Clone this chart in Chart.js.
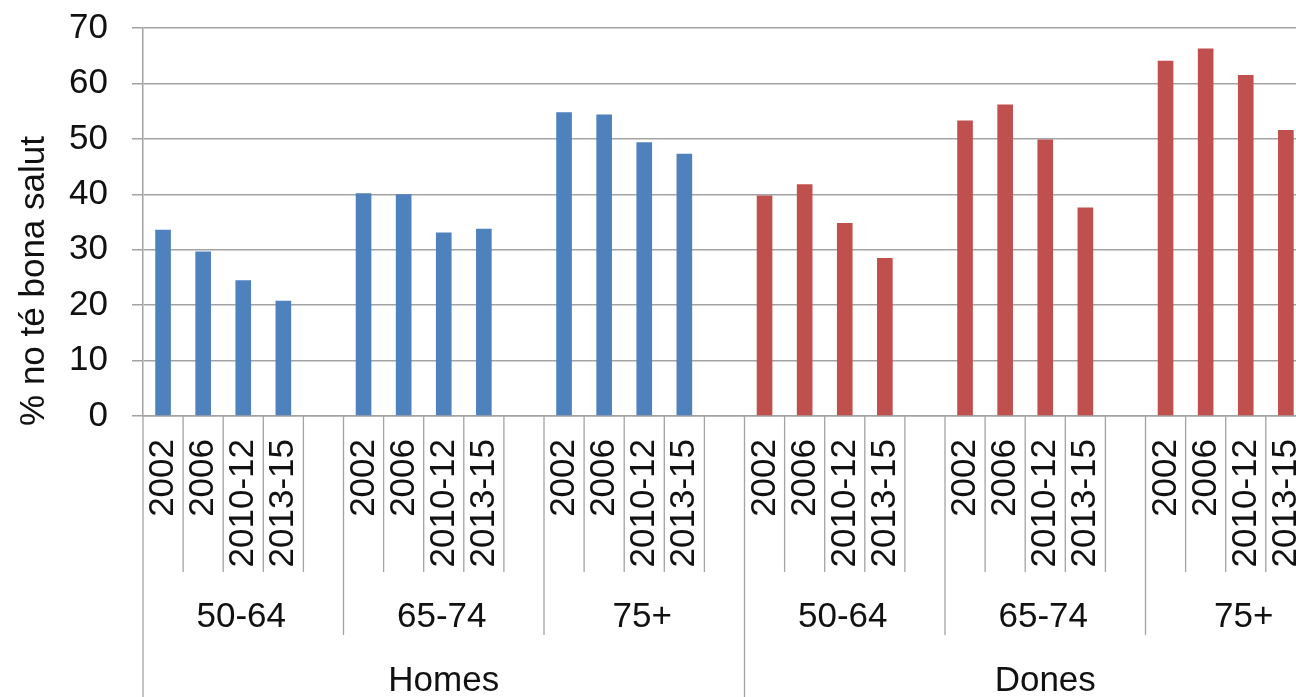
<!DOCTYPE html>
<html lang="ca">
<head>
<meta charset="utf-8">
<title>% no té bona salut</title>
<script src="https://cdn.jsdelivr.net/npm/chart.js@4.4.0/dist/chart.umd.min.js"></script>
<style>
  html, body { margin: 0; padding: 0; background: #fff; overflow: hidden; }
  #wrap { width: 1360px; height: 697px; }
</style>
</head>
<body>
<div id="wrap"><canvas id="healthChart" width="1360" height="697"></canvas></div>
<script>
const years = ['2002', '2006', '2010-12', '2013-15'];
const ageGroups = ['50-64', '65-74', '75+'];
const sexes = ['Homes', 'Dones'];
const yTicks = [0, 10, 20, 30, 40, 50, 60, 70];

// % que no té bona salut, per grup d'edat i període
const homesValues = [33.6, 29.7, 24.5, 20.8, 40.2, 40.0, 33.1, 33.8, 54.8, 54.4, 49.4, 47.3];
const donesValues = [39.8, 41.8, 34.8, 28.5, 53.3, 56.2, 49.9, 37.6, 64.1, 66.3, 61.5, 51.6];

const FONT = '"Liberation Sans", Arial, sans-serif';
const LINE_GRAY = '#a3a3a3';
const TEXT = '#111';

// an empty slot after every age group keeps the gap between groups
const slotsPerGroup = years.length + 1;
const labels = [];
const homesData = [];
const donesData = [];
sexes.forEach((sex, s) => {
    const values = s === 0 ? homesValues : donesValues;
    ageGroups.forEach((age, g) => {
        years.forEach((year, y) => {
            const v = values[g * years.length + y];
            labels.push(year);
            homesData.push(s === 0 ? v : null);
            donesData.push(s === 1 ? v : null);
        });
        labels.push('');
        homesData.push(null);
        donesData.push(null);
    });
});

// Draws the three-level category axis and the y title
const categoryAxis = {
    id: 'categoryAxis',
    afterDraw(chart) {
        const ctx = chart.ctx;
        const x = chart.scales.x;
        const area = chart.chartArea;
        const slotW = x.width / labels.length;
        const perSex = slotsPerGroup * ageGroups.length;

        ctx.save();
        ctx.strokeStyle = LINE_GRAY;
        ctx.lineWidth = 1.3;
        for (let i = 0; i <= labels.length; i++) {
            const px = x.left + i * slotW;
            let end = area.bottom + 156;
            if (i % slotsPerGroup === 0) end = area.bottom + 219;
            if (i % perSex === 0) end = chart.height;
            ctx.beginPath();
            ctx.moveTo(px, area.bottom);
            ctx.lineTo(px, end);
            ctx.stroke();
        }

        ctx.fillStyle = TEXT;
        ctx.font = `35px ${FONT}`;
        ctx.textBaseline = 'alphabetic';

        // year labels, read bottom to top
        labels.forEach((label, i) => {
            if (!label) return;
            ctx.save();
            ctx.translate(x.getPixelForValue(i) + 10, area.bottom + 23);
            ctx.rotate(-Math.PI / 2);
            ctx.textAlign = 'right';
            ctx.fillText(label, 0, 0);
            ctx.restore();
        });

        ctx.textAlign = 'center';
        sexes.forEach((sex, s) => {
            ageGroups.forEach((age, g) => {
                const start = s * perSex + g * slotsPerGroup;
                ctx.fillText(age, x.left + (start + slotsPerGroup / 2) * slotW - 2, area.bottom + 211);
            });
            ctx.fillText(sex, x.left + (s * perSex + perSex / 2) * slotW, area.bottom + 275);
        });

        ctx.save();
        ctx.translate(43.5, 281);
        ctx.rotate(-Math.PI / 2);
        ctx.fillText('% no té bona salut', 0, 0);
        ctx.restore();

        ctx.restore();
    }
};

new Chart(document.getElementById('healthChart'), {
    type: 'bar',
    data: {
        labels,
        datasets: [
            { label: 'Homes', data: homesData, backgroundColor: '#4f81bd' },
            { label: 'Dones', data: donesData, backgroundColor: '#c0504d' }
        ]
    },
    options: {
        responsive: false,
        animation: false,
        datasets: { bar: { grouped: false, barPercentage: 0.39, categoryPercentage: 1 } },
        layout: { padding: { left: 0, right: 14, top: 28, bottom: 0 } },
        plugins: { legend: { display: false }, tooltip: { enabled: false } },
        scales: {
            x: {
                ticks: { display: false },
                grid: { display: false },
                border: { color: LINE_GRAY, width: 1.5 },
                afterFit(scale) { scale.height = 281; }
            },
            y: {
                min: yTicks[0],
                max: yTicks[yTicks.length - 1],
                afterBuildTicks(scale) { scale.ticks = yTicks.map(v => ({ value: v })); },
                ticks: { color: TEXT, font: { family: FONT, size: 35 }, padding: 24 },
                grid: { color: LINE_GRAY, lineWidth: 1.5, tickLength: 11 },
                border: { color: LINE_GRAY, width: 1.5 },
                afterFit(scale) {
                    scale.width = 143;
                    // the 70 label may overhang the top padding
                    scale.paddingTop = 0;
                    scale.paddingBottom = 0;
                }
            }
        }
    },
    plugins: [categoryAxis]
});
</script>
</body>
</html>
